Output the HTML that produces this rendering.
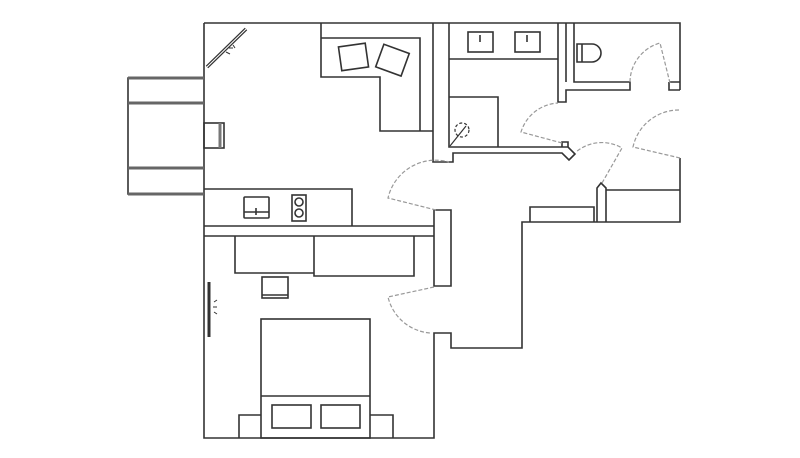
<!DOCTYPE html>
<html><head><meta charset="utf-8"><style>html,body{margin:0;padding:0;background:#fff}svg{display:block}</style></head>
<body>
<svg width="800" height="458" viewBox="0 0 800 458" xmlns="http://www.w3.org/2000/svg" fill="none" stroke="#333" stroke-width="1.6">
<!-- outer walls -->
<path d="M204,23 H680 V90"/>
<path d="M680,158 V222 H522 V348 H451 V333 H434 V438 H204 V23"/>
<!-- balcony -->
<path d="M204,78 H128 V194 H204"/>
<g stroke="#666" stroke-width="3"><path d="M128,78 H204 M128,103 H204 M128,168 H204 M128,194 H204"/></g>
<rect x="204" y="123" width="20" height="25"/>
<line x1="220" y1="123" x2="220" y2="148" stroke-width="3" stroke="#777"/>
<!-- mirror -->
<line x1="207" y1="67" x2="246" y2="29" stroke-width="3.5"/>
<line x1="207" y1="67" x2="246" y2="29" stroke="#fff" stroke-width="1"/>
<path d="M226,52 l4,2 M229,48 l4,0 M233,45 l2,3" stroke-width="1"/>
<!-- sofa -->
<path d="M321,23 V77 H380 V131 H433"/>
<path d="M321,38 H420 V131"/>
<rect x="340" y="45" width="27" height="24" transform="rotate(-8 353 57)"/>
<rect x="379" y="48" width="27" height="24" transform="rotate(20 392 60)"/>
<!-- thick wall left of bath -->
<path d="M433,23 V162 H453 V153 H562 L569,160 L575,154 L568,147 H449 V23"/>
<path d="M562,147 V142 H568 V147"/>
<!-- bathroom -->
<line x1="449" y1="59" x2="558" y2="59"/>
<rect x="468" y="32" width="25" height="20"/><line x1="480" y1="35" x2="480" y2="42"/>
<rect x="515" y="32" width="25" height="20"/><line x1="527" y1="35" x2="527" y2="42"/>
<path d="M449,97 H498 V147"/>
<circle cx="462" cy="130" r="7" stroke-dasharray="3,2" stroke-width="1.2"/>
<line x1="450" y1="146" x2="466" y2="126" stroke-width="1.2"/>
<!-- WC walls -->
<path d="M558,23 V102 H566 V90 H630 V82 H574 V23"/>
<line x1="566" y1="23" x2="566" y2="82"/>
<path d="M669,82 H680 M669,82 V90 H680"/>
<path d="M577,44 H592 A9,9 0 0 1 592,62 H577 Z"/>
<line x1="582" y1="44" x2="582" y2="62"/>
<!-- right room -->
<path d="M606,190 H680"/>
<path d="M597,222 V188 L601,183 L606,188 V222"/>
<path d="M530,222 V207 H594 V222"/>
<!-- kitchen -->
<path d="M204,189 H352 V226"/>
<path d="M204,226 H434 M204,236 H434"/>
<path d="M434,236 V210 H451 V286 H434 V236"/>
<rect x="244" y="197" width="25" height="21" rx="1"/><line x1="244" y1="212" x2="269" y2="212"/><line x1="256" y1="208" x2="256" y2="215"/>
<rect x="292" y="195" width="14" height="26"/><circle cx="299" cy="202" r="4"/><circle cx="299" cy="213" r="4"/>
<!-- bedroom -->
<path d="M235,236 V273 H314 V236 M314,273 V276 H414 V236"/>
<rect x="262" y="277" width="26" height="21"/><line x1="262" y1="295" x2="288" y2="295"/>
<line x1="209" y1="282" x2="209" y2="337" stroke-width="3"/>
<path d="M214,302 l3,-2 M213,307 h4 M214,312 l3,2" stroke-width="1"/>
<rect x="261" y="319" width="109" height="119"/>
<line x1="261" y1="396" x2="370" y2="396"/>
<rect x="272" y="405" width="39" height="23"/><rect x="321" y="405" width="39" height="23"/>
<path d="M239,438 V415 H261 M370,415 H393 V438"/>
<!-- doors -->
<g stroke="#999" stroke-width="1.2" stroke-dasharray="4,2">
<path d="M434,287 L388,297 A47,47 0 0 0 430,333"/>
<path d="M436,210 L388,198 A49,49 0 0 1 449,162"/>
<path d="M562,143 L521,132 A41,41 0 0 1 558,103"/>
<path d="M670,83 L660,43 A41,41 0 0 0 630,84"/>
<path d="M680,158 L633,147 A47,47 0 0 1 680,110"/>
<path d="M602,183 L622,148 A40,40 0 0 0 576,152"/>
</g>
</svg>
</body></html>
